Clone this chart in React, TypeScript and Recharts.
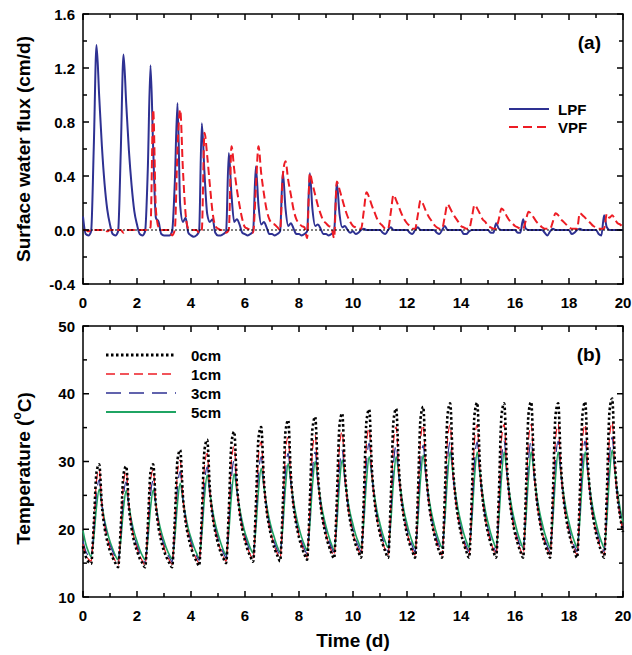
import React from "react"
import { LineChart, Line, XAxis, YAxis, ReferenceLine, ReferenceArea, Legend } from "recharts"

const FONT = "'Liberation Sans', Arial, Helvetica, sans-serif"
const BLUE = "#2E3192"
const RED = "#ED1C24"
const GREEN = "#1FA463"

// x grid: 0.1 d steps, 10 samples per day + end point
const days = Array.from({ length: 201 }, (_, i) => i / 10)
const dayTicks = [0, 1, 2, 3, 4, 5, 6, 7, 8, 9, 10, 11, 12, 13, 14, 15, 16, 17, 18, 19, 20]
const fluxTicks = [-0.4, -0.2, 0, 0.2, 0.4, 0.6, 0.8, 1.0, 1.2, 1.4, 1.6]
const tempTicks = [10, 15, 20, 25, 30, 35, 40, 45, 50]

// (a) surface water flux, cm/d — one row per day
const lpfByDay = [
  [0.10, -0.03, -0.04, -0.01, 0.62, 1.37, 0.99, 0.62, 0.34, 0.15],
  [0.04, -0.03, -0.04, -0.01, 0.59, 1.30, 0.94, 0.59, 0.33, 0.14],
  [0.04, -0.03, -0.04, -0.01, 0.45, 1.22, 0.60, 0.09, 0.06, -0.03],
  [-0.04, -0.04, -0.04, -0.01, 0.35, 0.94, 0.18, 0.06, 0.09, -0.02],
  [-0.04, -0.05, -0.04, -0.01, 0.79, 0.42, 0.12, 0.06, 0.08, -0.02],
  [-0.04, -0.04, -0.03, -0.01, 0.57, 0.26, 0.06, 0.08, 0.04, -0.02],
  [-0.03, -0.04, -0.03, -0.01, 0.47, 0.18, 0.04, 0.06, 0.02, -0.03],
  [-0.03, -0.04, -0.03, -0.01, 0.43, 0.16, 0.03, 0.05, 0.01, -0.03],
  [-0.03, -0.04, -0.03, -0.01, 0.42, 0.15, 0.03, 0.04, 0.01, -0.03],
  [-0.03, -0.04, -0.03, -0.01, 0.35, 0.12, 0.02, 0.03, 0.0, -0.02],
  [-0.01, -0.03, -0.02, 0.0, 0.01, 0.0, 0.0, 0.0, 0.0, 0.0],
  [0.0, -0.02, -0.03, 0.0, 0.02, 0.0, 0.0, 0.0, 0.0, 0.0],
  [0.0, -0.02, -0.03, 0.0, 0.02, 0.0, 0.0, 0.0, 0.0, 0.0],
  [0.0, -0.02, -0.03, 0.0, 0.03, 0.0, 0.0, 0.0, 0.0, 0.0],
  [0.0, -0.03, -0.03, -0.01, 0.0, 0.0, 0.0, 0.0, 0.0, 0.0],
  [0.0, -0.02, -0.02, 0.05, 0.01, 0.0, 0.0, 0.0, 0.0, 0.0],
  [0.0, -0.02, -0.02, 0.08, 0.01, 0.0, 0.0, 0.0, 0.0, 0.0],
  [0.0, -0.02, -0.04, -0.01, 0.01, 0.0, 0.0, 0.0, 0.0, 0.0],
  [0.0, -0.03, -0.02, 0.0, 0.01, 0.0, 0.0, 0.0, 0.0, 0.0],
  [0.0, -0.03, -0.04, 0.11, 0.02, 0.0, 0.0, 0.0, 0.0, 0.0],
]
const lpfEnd = 0.0

const vpfByDay = [
  [0.0, 0.0, -0.01, 0.0, 0.0, 0.0, 0.0, 0.0, 0.0, -0.01],
  [0.0, 0.0, -0.01, 0.0, 0.0, -0.02, 0.0, 0.0, 0.0, 0.0],
  [0.0, 0.0, 0.0, 0.0, 0.0, 0.02, 0.89, 0.15, 0.02, 0.0],
  [0.0, 0.0, 0.0, -0.04, 0.0, 0.60, 0.89, 0.45, 0.12, 0.01],
  [0.0, 0.0, 0.0, -0.02, 0.0, 0.72, 0.55, 0.33, 0.13, 0.03],
  [0.01, 0.0, 0.0, -0.02, 0.0, 0.62, 0.45, 0.30, 0.18, 0.08],
  [0.02, 0.01, 0.0, -0.02, 0.30, 0.62, 0.42, 0.27, 0.15, 0.08],
  [0.05, 0.04, 0.02, 0.0, 0.40, 0.51, 0.37, 0.26, 0.15, 0.08],
  [0.05, 0.03, 0.02, -0.06, 0.42, 0.34, 0.26, 0.18, 0.12, 0.07],
  [0.05, 0.03, 0.02, -0.06, 0.36, 0.30, 0.23, 0.16, 0.10, 0.06],
  [0.03, 0.02, 0.01, 0.01, 0.14, 0.28, 0.24, 0.18, 0.13, 0.08],
  [0.05, 0.03, 0.01, 0.01, 0.13, 0.26, 0.22, 0.17, 0.12, 0.08],
  [0.05, 0.03, 0.01, 0.01, 0.11, 0.22, 0.19, 0.14, 0.10, 0.07],
  [0.04, 0.02, 0.01, 0.01, 0.10, 0.19, 0.16, 0.12, 0.09, 0.06],
  [0.03, 0.02, 0.01, 0.01, 0.09, 0.185, 0.16, 0.12, 0.08, 0.06],
  [0.03, 0.02, 0.01, 0.01, 0.08, 0.16, 0.14, 0.10, 0.07, 0.05],
  [0.03, 0.02, 0.01, 0.01, 0.07, 0.135, 0.12, 0.09, 0.06, 0.04],
  [0.02, 0.01, 0.01, 0.01, 0.06, 0.125, 0.11, 0.08, 0.06, 0.04],
  [0.02, 0.01, 0.01, 0.01, 0.125, 0.11, 0.09, 0.07, 0.05, 0.03],
  [0.02, 0.01, 0.01, 0.01, 0.12, 0.09, 0.11, 0.08, 0.05, 0.04],
]
const vpfEnd = 0.02

// (b) temperature, °C — one row per day
const t0ByDay = [
  [17.5, 16.0, 15.2, 14.9, 20.8, 28.4, 29.6, 23.5, 20.2, 18.2],
  [16.8, 15.8, 15.0, 14.4, 20.4, 28.1, 29.3, 23.3, 20.1, 18.1],
  [16.8, 15.7, 15.0, 14.4, 20.5, 28.4, 29.6, 23.5, 20.2, 18.2],
  [16.8, 15.8, 15.0, 14.4, 21.3, 30.3, 31.7, 24.9, 21.1, 18.9],
  [17.3, 16.1, 15.3, 14.6, 22.0, 31.7, 33.2, 25.9, 21.9, 19.6],
  [17.9, 16.6, 15.7, 15.0, 22.8, 32.8, 34.4, 26.7, 22.5, 20.0],
  [18.3, 16.9, 16.0, 15.2, 23.2, 33.5, 35.1, 27.2, 22.8, 20.3],
  [18.5, 17.1, 16.1, 15.3, 23.6, 34.4, 36.1, 27.9, 23.3, 20.7],
  [18.8, 17.4, 16.3, 15.5, 23.9, 34.9, 36.6, 28.2, 23.6, 20.9],
  [19.0, 17.6, 16.5, 15.7, 24.3, 35.4, 37.1, 28.6, 23.9, 21.1],
  [19.2, 17.7, 16.7, 15.8, 24.6, 36.0, 37.7, 28.9, 24.1, 21.3],
  [19.3, 17.8, 16.7, 15.8, 24.6, 36.0, 37.8, 29.0, 24.2, 21.3],
  [19.3, 17.8, 16.7, 15.8, 24.7, 36.3, 38.1, 29.2, 24.3, 21.4],
  [19.4, 17.8, 16.7, 15.8, 24.9, 36.8, 38.6, 29.5, 24.5, 21.5],
  [19.4, 17.9, 16.7, 15.8, 24.9, 36.9, 38.7, 29.5, 24.5, 21.5],
  [19.4, 17.9, 16.7, 15.8, 24.9, 36.8, 38.6, 29.5, 24.5, 21.5],
  [19.4, 17.9, 16.7, 15.8, 25.0, 37.0, 38.8, 29.6, 24.6, 21.6],
  [19.4, 17.9, 16.7, 15.8, 24.9, 36.8, 38.6, 29.5, 24.5, 21.5],
  [19.4, 17.9, 16.7, 15.8, 25.0, 37.0, 38.8, 29.6, 24.6, 21.6],
  [19.4, 17.9, 16.7, 15.8, 25.2, 37.4, 39.3, 29.9, 24.7, 21.7],
]
const t0End = 19.6

const t1ByDay = [
  [17.8, 16.3, 15.6, 15.3, 20.4, 27.2, 28.8, 23.7, 20.6, 18.7],
  [17.2, 16.1, 15.3, 14.7, 20.0, 26.9, 28.6, 23.6, 20.5, 18.6],
  [17.2, 16.1, 15.3, 14.7, 20.1, 27.1, 28.8, 23.8, 20.7, 18.7],
  [17.3, 16.2, 15.4, 14.8, 20.7, 28.4, 30.2, 24.7, 21.4, 19.3],
  [17.7, 16.5, 15.6, 15.0, 21.2, 29.3, 31.2, 25.5, 22.0, 19.8],
  [18.2, 16.9, 15.9, 15.3, 21.7, 30.2, 32.2, 26.2, 22.5, 20.2],
  [18.5, 17.2, 16.2, 15.5, 22.1, 30.8, 32.9, 26.7, 22.9, 20.5],
  [18.8, 17.4, 16.4, 15.7, 22.5, 31.5, 33.6, 27.2, 23.3, 20.9],
  [19.1, 17.7, 16.6, 15.9, 22.7, 31.7, 33.9, 27.5, 23.6, 21.1],
  [19.3, 17.9, 16.8, 16.1, 23.1, 32.2, 34.4, 27.9, 23.8, 21.3],
  [19.5, 18.0, 16.9, 16.2, 23.3, 32.7, 34.9, 28.2, 24.1, 21.4],
  [19.6, 18.1, 16.9, 16.2, 23.4, 32.8, 35.1, 28.3, 24.1, 21.5],
  [19.6, 18.1, 16.9, 16.2, 23.5, 33.1, 35.4, 28.5, 24.3, 21.6],
  [19.7, 18.1, 17.0, 16.2, 23.5, 33.1, 35.4, 28.5, 24.3, 21.6],
  [19.7, 18.1, 17.0, 16.2, 23.5, 33.1, 35.4, 28.5, 24.3, 21.6],
  [19.7, 18.1, 17.0, 16.2, 23.5, 33.2, 35.5, 28.6, 24.3, 21.6],
  [19.7, 18.1, 17.0, 16.2, 23.5, 33.2, 35.5, 28.6, 24.3, 21.6],
  [19.7, 18.1, 17.0, 16.2, 23.5, 33.2, 35.5, 28.6, 24.3, 21.6],
  [19.7, 18.1, 17.0, 16.2, 23.5, 33.2, 35.5, 28.6, 24.3, 21.6],
  [19.7, 18.1, 17.0, 16.2, 23.7, 33.5, 35.9, 28.8, 24.5, 21.7],
]
const t1End = 19.7

const t3ByDay = [
  [18.3, 16.8, 16.1, 15.8, 19.7, 25.2, 27.3, 23.7, 21.0, 19.1],
  [17.7, 16.7, 15.8, 15.2, 19.2, 24.9, 27.0, 23.4, 20.8, 18.9],
  [17.6, 16.5, 15.7, 15.1, 19.2, 25.0, 27.2, 23.6, 21.0, 19.0],
  [17.7, 16.6, 15.8, 15.2, 19.7, 26.1, 28.5, 24.6, 21.7, 19.6],
  [18.2, 17.0, 16.1, 15.4, 20.1, 26.7, 29.2, 25.2, 22.2, 20.1],
  [18.6, 17.4, 16.5, 15.8, 20.7, 27.6, 30.2, 25.9, 22.8, 20.5],
  [19.0, 17.7, 16.7, 16.0, 21.0, 28.1, 30.7, 26.4, 23.2, 20.8],
  [19.3, 17.9, 16.9, 16.2, 21.3, 28.5, 31.2, 26.8, 23.5, 21.1],
  [19.5, 18.2, 17.1, 16.4, 21.5, 28.7, 31.4, 27.0, 23.7, 21.3],
  [19.7, 18.4, 17.3, 16.6, 21.7, 29.0, 31.7, 27.2, 23.9, 21.5],
  [19.9, 18.5, 17.5, 16.7, 22.1, 29.8, 32.7, 27.9, 24.4, 21.8],
  [20.1, 18.6, 17.5, 16.7, 22.0, 29.6, 32.4, 27.7, 24.2, 21.7],
  [20.0, 18.6, 17.5, 16.7, 22.0, 29.6, 32.4, 27.7, 24.2, 21.7],
  [20.0, 18.6, 17.5, 16.7, 22.2, 30.0, 32.9, 28.0, 24.5, 21.9],
  [20.1, 18.6, 17.5, 16.7, 22.2, 30.0, 32.9, 28.0, 24.5, 21.9],
  [20.1, 18.6, 17.5, 16.7, 22.2, 30.1, 33.0, 28.1, 24.5, 21.9],
  [20.1, 18.6, 17.5, 16.7, 22.2, 30.1, 33.0, 28.1, 24.5, 21.9],
  [20.1, 18.6, 17.5, 16.7, 22.2, 30.1, 33.0, 28.1, 24.5, 21.9],
  [20.1, 18.6, 17.5, 16.7, 22.2, 30.1, 33.0, 28.1, 24.5, 21.9],
  [20.1, 18.7, 17.5, 16.7, 22.5, 30.6, 33.6, 28.5, 24.8, 22.1],
]
const t3End = 20.2

const t5ByDay = [
  [19.8, 17.9, 16.7, 16.0, 18.8, 23.3, 25.9, 23.6, 21.3, 19.6],
  [18.2, 17.1, 16.1, 15.5, 18.4, 23.1, 25.7, 23.5, 21.2, 19.5],
  [18.2, 17.0, 16.1, 15.5, 18.4, 23.1, 25.8, 23.6, 21.3, 19.6],
  [18.3, 17.1, 16.2, 15.6, 18.7, 23.9, 26.8, 24.4, 22.0, 20.1],
  [18.7, 17.5, 16.5, 15.8, 19.2, 24.8, 28.0, 25.4, 22.8, 20.8],
  [19.3, 18.0, 16.9, 16.2, 19.6, 25.1, 28.2, 25.6, 23.1, 21.1],
  [19.5, 18.3, 17.2, 16.5, 20.0, 25.8, 29.0, 26.3, 23.6, 21.5],
  [19.9, 18.6, 17.4, 16.7, 20.3, 26.3, 29.7, 26.9, 24.1, 21.9],
  [20.2, 18.8, 17.7, 16.9, 20.6, 26.6, 30.0, 27.1, 24.3, 22.1],
  [20.4, 19.0, 17.8, 17.0, 20.7, 26.8, 30.2, 27.4, 24.5, 22.3],
  [20.7, 19.2, 18.1, 17.3, 21.1, 27.2, 30.7, 27.8, 24.8, 22.5],
  [20.8, 19.3, 18.1, 17.3, 21.1, 27.2, 30.7, 27.8, 24.8, 22.5],
  [20.8, 19.3, 18.1, 17.3, 21.1, 27.4, 30.9, 27.9, 24.9, 22.6],
  [20.8, 19.3, 18.1, 17.3, 21.3, 27.7, 31.4, 28.3, 25.2, 22.8],
  [21.0, 19.4, 18.2, 17.3, 21.3, 27.7, 31.4, 28.3, 25.2, 22.8],
  [21.0, 19.4, 18.2, 17.3, 21.3, 27.7, 31.4, 28.3, 25.2, 22.8],
  [21.0, 19.4, 18.2, 17.3, 21.3, 27.7, 31.4, 28.3, 25.2, 22.8],
  [21.0, 19.4, 18.2, 17.3, 21.3, 27.7, 31.4, 28.3, 25.2, 22.8],
  [21.0, 19.4, 18.2, 17.3, 21.3, 27.7, 31.4, 28.3, 25.2, 22.8],
  [21.0, 19.4, 18.2, 17.3, 21.3, 28.0, 31.7, 28.5, 25.4, 22.9],
]
const t5End = 21.0

const lpf = [...lpfByDay.flat(), lpfEnd]
const vpf = [...vpfByDay.flat(), vpfEnd]
const t0 = [...t0ByDay.flat(), t0End]
const t1 = [...t1ByDay.flat(), t1End]
const t3 = [...t3ByDay.flat(), t3End]
const t5 = [...t5ByDay.flat(), t5End]

const fluxData = days.map((t, i) => ({ t, lpf: lpf[i], vpf: vpf[i] }))
const tempData = days.map((t, i) => ({ t, t0: t0[i], t1: t1[i], t3: t3[i], t5: t5[i] }))

const tickText = { fontFamily: FONT, fontSize: 15, fontWeight: 700, fill: "#000" }
const titleText = { fontFamily: FONT, fontSize: 19, fontWeight: 700, fill: "#000" }

// inward ticks, mirrored on the top edge
function XTick(props: any) {
  const { x, y, payload, plotTop } = props
  const v = payload.value
  const major = v % 2 === 0
  const len = major ? 6 : 4
  return (
    <g>
      <line x1={x} x2={x} y1={y} y2={y - len} stroke="#000" strokeWidth={1.5} />
      <line x1={x} x2={x} y1={plotTop} y2={plotTop + len} stroke="#000" strokeWidth={1.5} />
      {major && (
        <text x={x} y={y + 24} textAnchor="middle" {...tickText}>
          {v}
        </text>
      )}
    </g>
  )
}

// inward ticks, mirrored on the right edge
function YTick(props: any) {
  const { x, y, payload, plotRight, isMajor, fmt } = props
  const v = payload.value
  const major = isMajor(v)
  const len = major ? 6 : 4
  return (
    <g>
      <line x1={x} x2={x + len} y1={y} y2={y} stroke="#000" strokeWidth={1.5} />
      <line x1={plotRight - len} x2={plotRight} y1={y} y2={y} stroke="#000" strokeWidth={1.5} />
      {major && (
        <text x={x - 8} y={y + 5.5} textAnchor="end" {...tickText}>
          {fmt(v)}
        </text>
      )}
    </g>
  )
}

const yTitle = (text: React.ReactNode, shift = 0) => (p: any) => {
  const vb = p.viewBox
  const cx = vb.x + 10.5
  const cy = vb.y + vb.height / 2 + shift
  return (
    <text transform={`translate(${cx},${cy}) rotate(-90)`} textAnchor="middle" dominantBaseline="central" {...titleText}>
      {text}
    </text>
  )
}

function FluxLegend() {
  return (
    <svg width={100} height={40} style={{ display: "block" }}>
      <line x1={4} x2={44} y1={11} y2={11} stroke={BLUE} strokeWidth={2} />
      <text x={53} y={16.5} {...tickText}>LPF</text>
      <line x1={4} x2={44} y1={29} y2={29} stroke={RED} strokeWidth={2} strokeDasharray="9 5" />
      <text x={53} y={34.5} {...tickText}>VPF</text>
    </svg>
  )
}

const tempSeries = [
  { key: "0cm", color: "#000", width: 2.6, dash: "2.5 2.5" },
  { key: "1cm", color: RED, width: 1.2, dash: "9 5" },
  { key: "3cm", color: BLUE, width: 1.2, dash: "15 8" },
  { key: "5cm", color: GREEN, width: 1.6, dash: undefined as string | undefined },
]

function TempLegend() {
  return (
    <svg width={130} height={80} style={{ display: "block" }}>
      {tempSeries.map((s, i) => (
        <g key={s.key}>
          <line x1={6} x2={76} y1={11 + i * 19} y2={11 + i * 19} stroke={s.color} strokeWidth={s.width + 0.3} strokeDasharray={s.dash} />
          <text x={91} y={16.5 + i * 19} {...tickText}>{s.key}</text>
        </g>
      ))}
    </svg>
  )
}

export default function App() {
  return (
    <div style={{ position: "absolute", left: 0, top: 0, width: 632, height: 655, background: "#fff" }}>
      <LineChart width={632} height={312} data={fluxData} margin={{ top: 14, right: 9, bottom: 0, left: 13 }}>
        <XAxis
          dataKey="t"
          type="number"
          domain={[0, 20]}
          ticks={dayTicks}
          interval={0}
          axisLine={false}
          tickLine={false}
          tickSize={0}
          tickMargin={0}
          height={28}
          tick={<XTick plotTop={14} />}
        />
        <YAxis
          type="number"
          domain={[-0.4, 1.6]}
          ticks={fluxTicks}
          interval={0}
          axisLine={false}
          tickLine={false}
          tickSize={0}
          tickMargin={0}
          width={70}
          allowDataOverflow
          tick={<YTick plotRight={623} isMajor={(v: number) => Math.abs(Math.round(v * 10)) % 4 === 0} fmt={(v: number) => v.toFixed(1)} />}
          label={{ content: yTitle("Surface water flux (cm/d)") }}
        />
        <Line dataKey="lpf" type="monotone" stroke={BLUE} strokeWidth={2} dot={false} activeDot={false} isAnimationActive={false} />
        <Line dataKey="vpf" type="monotone" stroke={RED} strokeWidth={2} strokeDasharray="8 4" dot={false} activeDot={false} isAnimationActive={false} />
        <ReferenceLine y={0} stroke="#000" strokeWidth={1} strokeDasharray="2 2" />
        <ReferenceArea
          x1={0}
          x2={20}
          y1={-0.4}
          y2={1.6}
          fill="none"
          stroke="#000"
          strokeWidth={1.5}
          label={{ value: "(a)", position: "insideTopRight", offset: 22, style: titleText }}
        />
        <Legend
          layout="horizontal"
          verticalAlign="middle"
          align="center"
          content={() => <FluxLegend />}
          wrapperStyle={{ position: "absolute", left: 505, top: 98, width: 100, height: 40 }}
        />
      </LineChart>
      <LineChart width={632} height={343} data={tempData} margin={{ top: 14, right: 9, bottom: 8, left: 13 }}>
        <XAxis
          dataKey="t"
          type="number"
          domain={[0, 20]}
          ticks={dayTicks}
          interval={0}
          axisLine={false}
          tickLine={false}
          tickSize={0}
          tickMargin={0}
          height={50}
          tick={<XTick plotTop={14} />}
          label={{ value: "Time (d)", position: "insideBottom", offset: 0, style: titleText }}
        />
        <YAxis
          type="number"
          domain={[10, 50]}
          ticks={tempTicks}
          interval={0}
          axisLine={false}
          tickLine={false}
          tickSize={0}
          tickMargin={0}
          width={70}
          allowDataOverflow
          tick={<YTick plotRight={623} isMajor={(v: number) => v % 10 === 0} fmt={(v: number) => String(v)} />}
          label={{
            content: yTitle(
              <>
                Temperature (<tspan dy={-7} fontSize={12}>o</tspan>
                <tspan dy={7}>C)</tspan>
              </>,
              7
            ),
          }}
        />
        <Line dataKey="t5" type="monotone" stroke={GREEN} strokeWidth={1.6} dot={false} activeDot={false} isAnimationActive={false} />
        <Line dataKey="t3" type="monotone" stroke={BLUE} strokeWidth={1.2} strokeDasharray="15 8" dot={false} activeDot={false} isAnimationActive={false} />
        <Line dataKey="t1" type="monotone" stroke={RED} strokeWidth={1.2} strokeDasharray="9 5" dot={false} activeDot={false} isAnimationActive={false} />
        <Line dataKey="t0" type="monotone" stroke="#000" strokeWidth={2.6} strokeDasharray="2.5 2.5" dot={false} activeDot={false} isAnimationActive={false} />
        <ReferenceArea
          x1={0}
          x2={20}
          y1={10}
          y2={50}
          fill="none"
          stroke="#000"
          strokeWidth={1.5}
          label={{ value: "(b)", position: "insideTopRight", offset: 22, style: titleText }}
        />
        <Legend
          layout="horizontal"
          verticalAlign="middle"
          align="center"
          content={() => <TempLegend />}
          wrapperStyle={{ position: "absolute", left: 100, top: 32, width: 130, height: 80 }}
        />
      </LineChart>
    </div>
  )
}
